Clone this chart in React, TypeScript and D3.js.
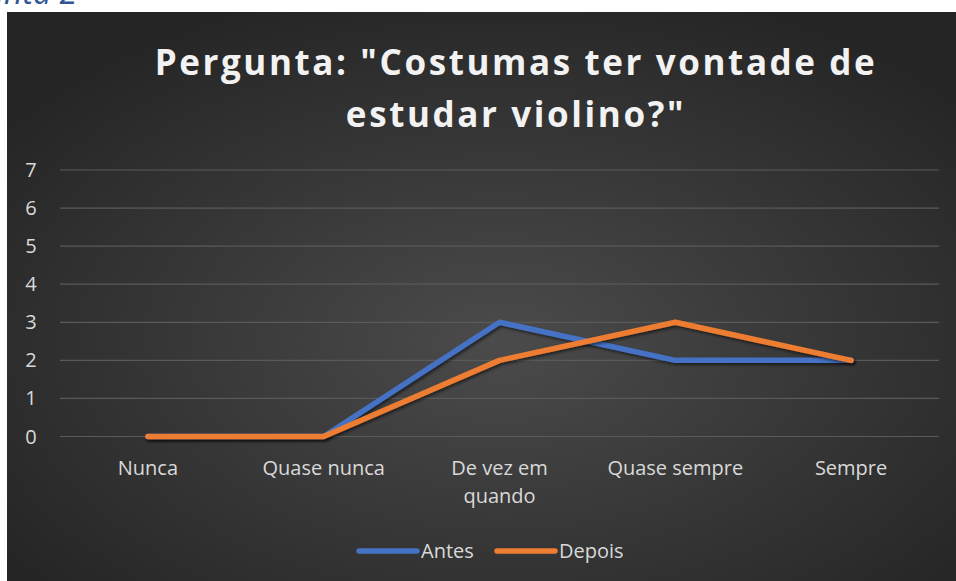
import React from "react";
import * as d3 from "d3";

const categories = ["Nunca", "Quase nunca", "De vez em quando", "Quase sempre", "Sempre"];
const categoryLines = [["Nunca"], ["Quase nunca"], ["De vez em", "quando"], ["Quase sempre"], ["Sempre"]];
const antes = [0, 0, 3, 2, 2];
const depois = [0, 0, 2, 3, 2];
const yTicks = [0, 1, 2, 3, 4, 5, 6, 7];
const seriesNames = ["Antes", "Depois"];
const seriesColors = ["#4472c4", "#ed7d31"];
const titleLines = ['Pergunta: "Costumas ter vontade de', 'estudar violino?"'];

export default function App() {
  const W = 956, H = 581;
  const left = 60, right = 939, top = 170, bottom = 436.5;
  const x = d3.scaleBand<string>().domain(categories).range([left, right]);
  const y = d3.scaleLinear().domain([0, 7]).range([bottom, top]);
  const line = d3.line<number>()
    .x((_, i) => (x(categories[i]) as number) + x.bandwidth() / 2)
    .y((d) => y(d));
  const font = "'Open Sans', sans-serif";
  const series = [antes, depois];
  return (
    <svg width={W} height={H} style={{ position: "absolute", left: 0, top: 0, background: "#fff" }}>
      <defs>
        <radialGradient id="bg" cx="52%" cy="58%" r="65%">
          <stop offset="0%" stopColor="#4b4b4b" />
          <stop offset="100%" stopColor="#252525" />
        </radialGradient>
        <filter id="sh" x="-10%" y="-10%" width="120%" height="130%">
          <feDropShadow dx="1.5" dy="2" stdDeviation="1.5" floodColor="#000" floodOpacity="0.55" />
        </filter>
      </defs>
      <text x={77} y={4} textAnchor="end" fontFamily={font} fontStyle="italic" fontSize={32} fill="#2f5597">Pergunta 2</text>
      <rect x={7} y={12} width={W - 7} height={H - 12} fill="url(#bg)" />
      {titleLines.map((t, i) => (
        <text key={i} x={516} y={75 + i * 52} textAnchor="middle" fontFamily={font} fontWeight={700}
          fontSize={35} letterSpacing={2.6} fill="#f2f2f2">{t}</text>
      ))}
      {yTicks.map((t) => (
        <g key={t}>
          <line x1={left} x2={right} y1={y(t)} y2={y(t)} stroke="#5a5a5a" strokeWidth={1.2} />
          <text x={31} y={y(t) + 7} textAnchor="middle" fontFamily={font} fontSize={20} fill="#d9d9d9">{t}</text>
        </g>
      ))}
      {categoryLines.map((ls, i) => (
        <text key={i} textAnchor="middle" fontFamily={font} fontSize={20} fill="#d9d9d9">
          {ls.map((l, j) => (
            <tspan key={j} x={(x(categories[i]) as number) + x.bandwidth() / 2} y={475 + j * 28}>{l}</tspan>
          ))}
        </text>
      ))}
      {series.map((s, i) => (
        <path key={i} d={line(s) || ""} fill="none" stroke={seriesColors[i]} strokeWidth={5.5}
          strokeLinejoin="round" strokeLinecap="round" filter="url(#sh)" />
      ))}
      {seriesNames.map((n, i) => {
        const lx = 359 + i * 138;
        return (
          <g key={n}>
            <line x1={lx} x2={lx + 58} y1={551} y2={551} stroke={seriesColors[i]} strokeWidth={5.5} strokeLinecap="round" />
            <text x={lx + 62} y={558} fontFamily={font} fontSize={20} fill="#d9d9d9">{n}</text>
          </g>
        );
      })}
    </svg>
  );
}
